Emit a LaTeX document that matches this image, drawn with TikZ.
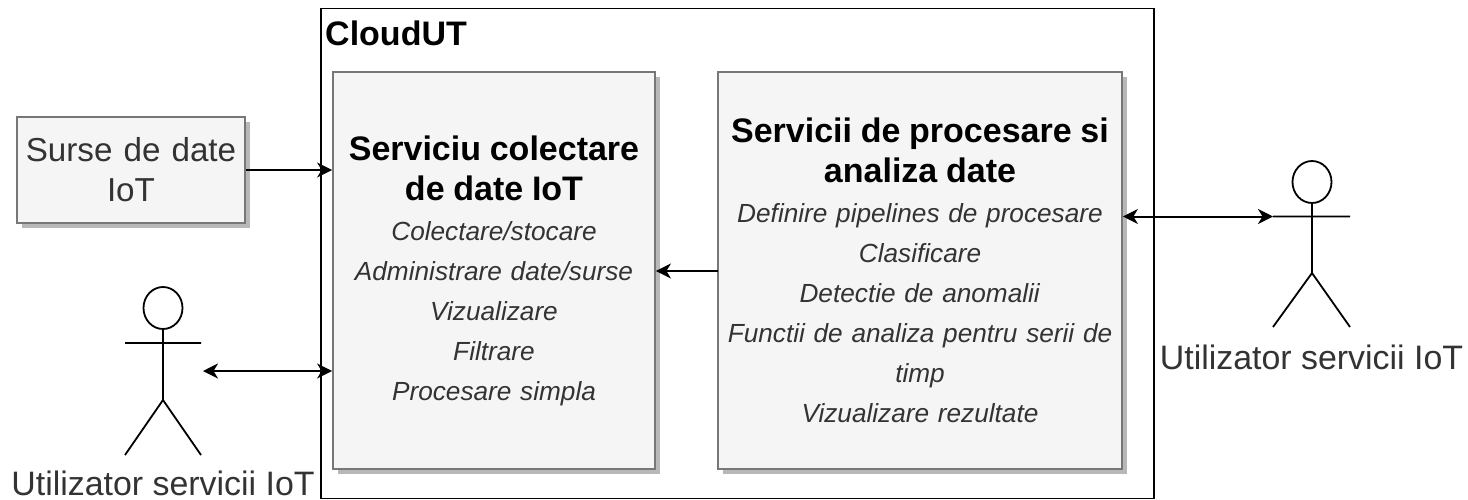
\documentclass[tikz,border=0pt]{standalone}
\usepackage{fontspec}
\setmainfont{Liberation Sans}
\usetikzlibrary{arrows.meta,shadows,shapes.geometric}
\definecolor{boxfill}{HTML}{F5F5F5}
\definecolor{boxline}{HTML}{777777}
\definecolor{softtext}{HTML}{333333}
\tikzset{
  x=1pt,y=-1pt,
  shadowbox/.style={draw=boxline,fill=boxfill,line width=1.8pt,inner sep=0pt,align=center,
    text=softtext,font=\fontsize{26.2}{40}\selectfont,
    drop shadow={shadow xshift=4.5pt,shadow yshift=-4.5pt,fill=black!28,opacity=1}},
  link/.style={draw=black,line width=2pt,-{Stealth[length=15pt,width=15pt,inset=4.5pt]}},
  biglink/.style={link,{Stealth[length=15pt,width=15pt,inset=4.5pt]}-{Stealth[length=15pt,width=15pt,inset=4.5pt]}},
  actor/.style={draw=black,line width=1.8pt},
  bigtext/.style={font=\fontsize{33.9}{40}\selectfont,text=softtext,inner sep=0pt},
}
\newcommand{\titleline}[1]{{\fontsize{34}{40}\selectfont\bfseries\color{black}#1}}
\begin{document}
\begin{tikzpicture}
\useasboundingbox (0,0) rectangle (1468,499);
\node[draw=black,line width=1.8pt,minimum width=833pt,minimum height=490pt,inner sep=0pt,anchor=north west] (cloud) at (320,7.5) {};
\node[anchor=base west,inner sep=0pt,font=\fontsize{34}{40}\selectfont\bfseries] (cloudlabel) at (325,45.7) {CloudUT};

\node[shadowbox,minimum width=322pt,minimum height=397pt,text width=322pt] (colect) at (494,270.5) {%
\rule{0pt}{26.4pt}\titleline{Serviciu colectare}\\
\titleline{de date IoT}\\
\textit{Colectare/stocare}\\
\textit{Administrare date/surse}\\
\textit{Vizualizare}\\
\textit{Filtrare}\\
\textit{Procesare simpla}};

\node[shadowbox,minimum width=404pt,minimum height=397pt,text width=404pt] (proces) at (920,270.5) {%
\titleline{Servicii de procesare si}\\
\titleline{analiza date}\\
\textit{Definire pipelines de procesare}\\
\textit{Clasificare}\\
\textit{Detectie de anomalii}\\
\textit{Functii de analiza pentru serii de}\\
\textit{timp}\\
\textit{Vizualizare rezultate}\rule[-1.6pt]{0pt}{1pt}};

\node[shadowbox,minimum width=228pt,minimum height=106pt,text width=228pt,font=\fontsize{33.2}{40}\selectfont] (surse) at (131,170) {Surse de date\\IoT};

% left actor
\node[actor,ellipse,minimum width=39pt,minimum height=42pt,inner sep=0pt] (headL) at (163,308) {};
\coordinate (hipL) at (163,400);
\coordinate (armLa) at (125,343);
\coordinate (armLb) at (201,343);
\coordinate (footLa) at (125,455);
\coordinate (footLb) at (201,455);
\coordinate (sideL) at (203,371);
\draw[actor] (headL.south) -- (hipL) (armLa) -- (armLb) (footLa) -- (hipL) -- (footLb);
\node[bigtext] (labelL) at (163,483) {Utilizator servicii IoT};

% right actor
\node[actor,ellipse,minimum width=39pt,minimum height=42pt,inner sep=0pt] (headR) at (1312,182) {};
\coordinate (hipR) at (1312,273);
\coordinate (armRa) at (1273,216.5);
\coordinate (armRb) at (1350,216.5);
\coordinate (footRa) at (1273,327);
\coordinate (footRb) at (1350,327);
\draw[actor] (headR.south) -- (hipR) (armRa) -- (armRb) (footRa) -- (hipR) -- (footRb);
\node[bigtext] (labelR) at (1311.5,357.5) {Utilizator servicii IoT};

% connectors
\draw[link] (surse.east) -- (surse.east -| colect.west);
\draw[biglink] (sideL) -- (sideL -| colect.west);
\coordinate (midP) at (718,271);
\draw[link] (midP) -- (midP -| colect.east);
\draw[biglink] (armRa -| proces.east) -- (armRa);
\end{tikzpicture}
\end{document}
